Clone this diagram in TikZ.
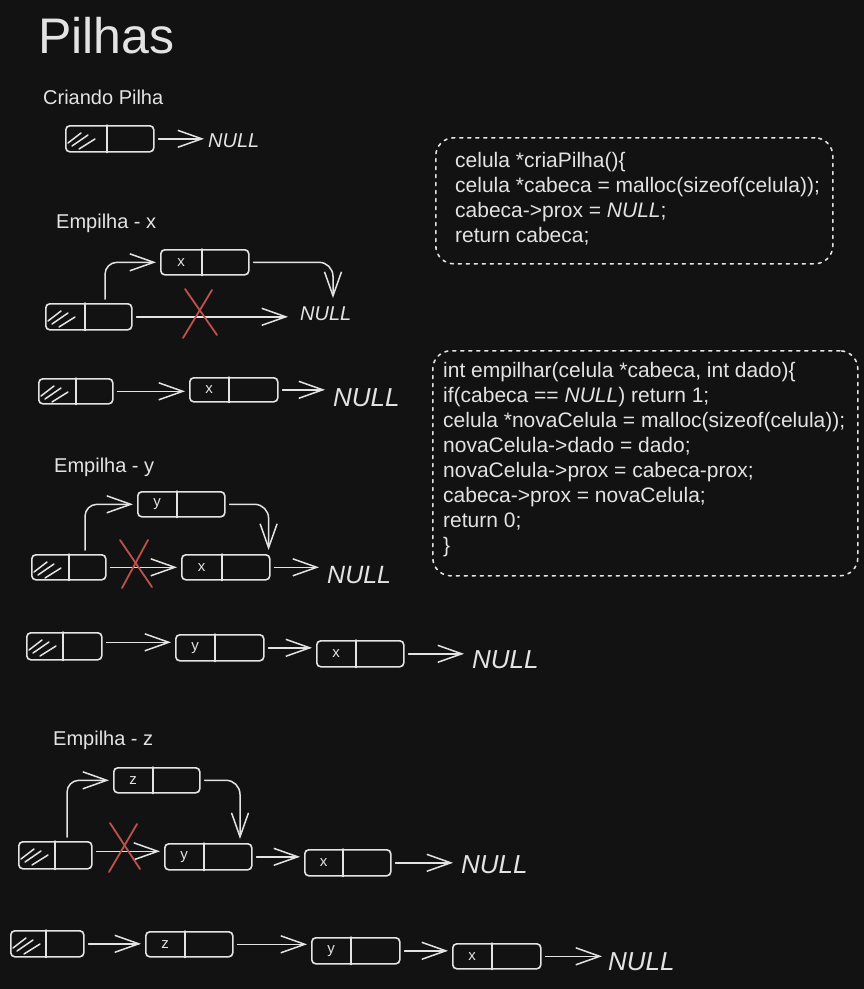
\documentclass[tikz,border=0pt]{standalone}
\usepackage{fontspec}
\setmainfont{Liberation Sans}
\usetikzlibrary{arrows.meta,calc}
\definecolor{bg}{HTML}{121212}
\definecolor{fg}{HTML}{E3E3E3}
\definecolor{redx}{HTML}{C0504D}
\newcommand\mkcell[7]{%
  \node[cellbox, minimum width=#4pt, minimum height=#5pt] (#1) at (#2,#3) {};
  \coordinate (#1-d) at ($(#1.north west)+(#6,0)$);
  \draw[cellline] (#1-d) -- (#1-d |- #1.south);
  \node[celllabel] (#1-l) at ($(#1.west)!0.5!(#1-d |- #1.west)$) {#7};
}
\newcommand\mkhatch[1]{%
  \draw[cellline] ($(#1.north west)+(3,18)$) -- ($(#1.north west)+(16,8)$);
  \draw[cellline] ($(#1.north west)+(7,21)$) -- ($(#1.north west)+(23,10)$);
  \draw[cellline] ($(#1.north west)+(14,24)$) -- ($(#1.north west)+(30,14)$);
}
\newcommand\mkcross[5]{%
  \draw[xline] ($(#1)+#2$) -- ($(#1)+#3$);
  \draw[xline] ($(#1)+#4$) -- ($(#1)+#5$);
}
\begin{document}
\begin{tikzpicture}[x=1pt,y=-1pt,
  cellbox/.style={draw=fg, line width=1.6pt, rounded corners=4pt, inner sep=0pt, anchor=north west},
  cellline/.style={draw=fg, line width=1.5pt, line cap=round},
  celllabel/.style={text=fg, font=\fontsize{15}{15}\selectfont, inner sep=0pt},
  arr/.style={draw=fg, line width=1.5pt, line cap=round, -{Straight Barb[length=24pt,width=17pt,line width=1.5pt]}, shorten <=4pt, shorten >=4pt},
  xline/.style={draw=redx, line width=1.8pt, line cap=round},
  heading/.style={text=fg, font=\fontsize{20}{20}\selectfont, inner sep=0pt, anchor=base west},
  titlestyle/.style={text=fg, font=\fontsize{50}{50}\selectfont, inner sep=0pt, anchor=base west},
  nullsm/.style={text=fg, font=\fontsize{20}{20}\selectfont\itshape, inner sep=0pt, anchor=base west},
  nullbig/.style={text=fg, font=\fontsize{26}{26}\selectfont\itshape, inner sep=0pt, anchor=base west},
  codebox/.style={draw=fg, line width=1.6pt, dash pattern=on 3pt off 5pt, line cap=round, rounded corners=18pt, inner sep=0pt, anchor=north west},
  codetext/.style={text=fg, font=\fontsize{21}{25}\selectfont, inner sep=0pt, anchor=base west}
]
\fill[bg] (0,0) rectangle (864,989);
\useasboundingbox (0,0) rectangle (864,989);

% titles
\node[titlestyle] (title) at (38,53) {Pilhas};
\node[heading] (hd1) at (43,104) {Criando Pilha};
\node[heading] (hd2) at (56,228) {Empilha - x};
\node[heading] (hd3) at (54,472) {Empilha - y};
\node[heading] (hd4) at (53,745) {Empilha - z};

% ---------- Criando Pilha
\mkcell{h1}{65}{125}{88}{26}{42}{}
\mkhatch{h1}
\node[nullsm] (n1) at (208,147) {NULL};
\draw[arr] (h1.east) -- (h1.east -| n1.west);

% ---------- Empilha x (step)
\mkcell{h2}{45}{303}{86}{26}{40}{}
\mkhatch{h2}
\mkcell{x2}{160}{249}{88}{25}{42}{x}
\node[nullsm] (n2) at (300,320) {NULL};
\draw[arr, shorten >=12pt] (h2.east) -- (h2.east -| n2.west);
\draw[arr, rounded corners=12pt] ($(h2.north west)+(60,0)$) |- (x2.west);
\draw[arr, rounded corners=14pt] (x2.east) -| ($(n2.north west)+(33,-4)$);
\coordinate (k2) at (200,313);
\mkcross{k2}{(12,-23)}{(-17,25)}{(-15,-24)}{(17,22)}

% ---------- Empilha x (result)
\mkcell{h3}{38}{378}{74}{25}{38}{}
\mkhatch{h3}
\mkcell{x3}{189}{377}{88}{24}{40}{x}
\node[nullbig] (n3) at (333,406) {NULL};
\draw[arr] (h3.east) -- (h3.east -| x3.west);
\draw[arr, shorten >=8pt] (x3.east) -- (x3.east -| n3.west);

% ---------- Empilha y (step)
\mkcell{h4}{31}{554}{74}{25}{38}{}
\mkhatch{h4}
\mkcell{y4}{137}{491}{87}{25}{40}{y}
\mkcell{x4}{181}{554}{88}{25}{41}{x}
\node[nullbig, font=\fontsize{25}{25}\selectfont\itshape] (n4) at (327,583) {NULL};
\draw[arr] (h4.east) -- (h4.east -| x4.west);
\draw[arr, shorten >=8pt] (x4.east) -- (x4.east -| n4.west);
\draw[arr, rounded corners=12pt] ($(h4.north west)+(54,0)$) |- (y4.west);
\draw[arr, rounded corners=14pt] (y4.east) -| ($(x4.north east)+(-2,0)$);
\coordinate (k4) at (136,564);
\mkcross{k4}{(-16,-24)}{(16,23)}{(12,-24)}{(-14,24)}

% ---------- Empilha y (result)
\mkcell{h5}{26}{632}{75}{27}{37}{}
\mkhatch{h5}
\mkcell{y5}{175}{634}{88}{26}{40}{y}
\mkcell{x5}{316}{640}{87}{26}{40}{x}
\node[nullbig] (n5) at (472,668) {NULL};
\draw[arr] ($(h5.east)+(0,-4)$) -- ($(h5.east -| y5.west)+(0,-4)$);
\draw[arr] (y5.east) -- (y5.east -| x5.west);
\draw[arr, shorten >=8pt] (x5.east) -- (x5.east -| n5.west);

% ---------- Empilha z (step)
\mkcell{h6}{18}{841}{73}{27}{37}{}
\mkhatch{h6}
\mkcell{z6}{113}{767}{86}{25}{40}{z}
\mkcell{y6}{164}{843}{87}{26}{40}{y}
\mkcell{x6}{304}{849}{86}{26}{39}{x}
\node[nullbig] (n6) at (461,873) {NULL};
\draw[arr] ($(h6.east)+(0,-4)$) -- ($(h6.east -| y6.west)+(0,-4)$);
\draw[arr] (y6.east) -- (y6.east -| x6.west);
\draw[arr, shorten >=8pt] (x6.east) -- (x6.east -| n6.west);
\draw[arr, rounded corners=12pt] ($(h6.north west)+(49,0)$) |- (z6.west);
\draw[arr, rounded corners=14pt] (z6.east) -| ($(y6.north west)+(76,0)$);
\coordinate (k6) at (124,847);
\mkcross{k6}{(-14,-24)}{(16,22)}{(13,-23)}{(-15,25)}

% ---------- Empilha z (result)
\mkcell{h7}{10}{930}{73}{26}{36}{}
\mkhatch{h7}
\mkcell{z7}{145}{931}{87}{25}{40}{z}
\mkcell{y7}{311}{937}{88}{26}{40}{y}
\mkcell{x7}{452}{943}{88}{25}{40}{x}
\node[nullbig] (n7) at (608,970) {NULL};
\draw[arr] (h7.east) -- (h7.east -| z7.west);
\draw[arr] (z7.east) -- (z7.east -| y7.west);
\draw[arr] (y7.east) -- (y7.east -| x7.west);
\draw[arr, shorten >=6pt] (x7.east) -- (x7.east -| n7.west);

% ---------- code boxes
\node[codebox, minimum width=397pt, minimum height=126pt] (box1) at (435,137) {};
\node[codetext] (c1a) at (455,167) {celula *criaPilha()\{};
\node[codetext] (c1b) at (455,192) {celula *cabeca = malloc(sizeof(celula));};
\node[codetext] (c1c) at (455,217) {cabeca->prox = {\itshape NULL};};
\node[codetext] (c1d) at (455,242) {return cabeca;};

\node[codebox, minimum width=425pt, minimum height=225pt] (box2) at (432,350) {};
\node[codetext] (c2a) at (443,377) {int empilhar(celula *cabeca, int dado)\{};
\node[codetext] (c2b) at (443,402) {if(cabeca == {\itshape NULL}) return 1;};
\node[codetext] (c2c) at (443,427) {celula *novaCelula = malloc(sizeof(celula));};
\node[codetext] (c2d) at (443,452) {novaCelula->dado = dado;};
\node[codetext] (c2e) at (443,477) {novaCelula->prox = cabeca-prox;};
\node[codetext] (c2f) at (443,502) {cabeca->prox = novaCelula;};
\node[codetext] (c2g) at (443,527) {return 0;};
\node[codetext] (c2h) at (443,552) {\}};
\end{tikzpicture}
\end{document}
